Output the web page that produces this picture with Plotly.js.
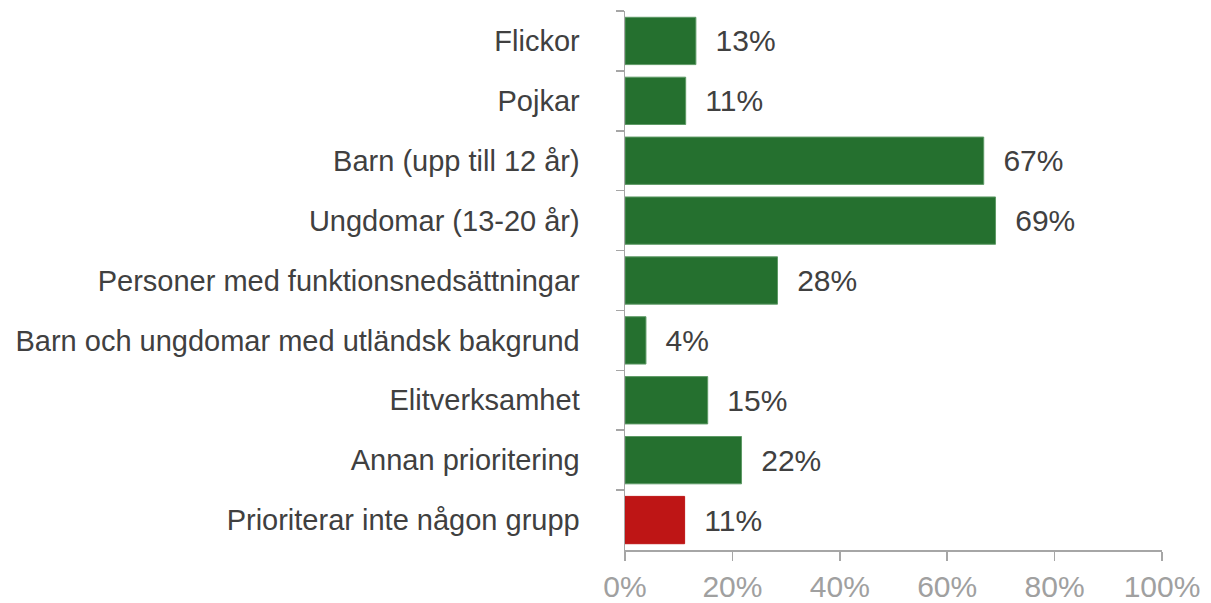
<!DOCTYPE html>
<html>
<head>
<meta charset="utf-8">
<script src="https://cdn.plot.ly/plotly-3.0.1.min.js"></script>
<style>html,body{margin:0;padding:0;background:#fff;}#chart{width:1211px;height:603px;}</style>
</head>
<body>
<div id="chart"></div>
<script>
const categories = [
  "Flickor",
  "Pojkar",
  "Barn (upp till 12 år)",
  "Ungdomar (13-20 år)",
  "Personer med funktionsnedsättningar",
  "Barn och ungdomar med utländsk bakgrund",
  "Elitverksamhet",
  "Annan prioritering",
  "Prioriterar inte någon grupp"
];
const values = [13.2, 11.3, 66.8, 69.0, 28.4, 3.9, 15.4, 21.7, 11.1];
const valueLabels = ["13%", "11%", "67%", "69%", "28%", "4%", "15%", "22%", "11%"];
const barColors = ["#25702F", "#25702F", "#25702F", "#25702F", "#25702F", "#25702F", "#25702F", "#25702F", "#BE1515"];
const lineColors = ["#5E9A66", "#5E9A66", "#5E9A66", "#5E9A66", "#5E9A66", "#5E9A66", "#5E9A66", "#5E9A66", "#BE1515"];
const xTickVals = [0, 20, 40, 60, 80, 100];
const xTickText = ["0%", "20%", "40%", "60%", "80%", "100%"];

const trace = {
  type: "bar",
  orientation: "h",
  x: values,
  y: categories,
  text: valueLabels,
  texttemplate: "\u00a0\u00a0%{text}",
  textposition: "outside",
  cliponaxis: false,
  textfont: {family: "Liberation Sans, Arial, sans-serif", size: 30, color: "#404040"},
  marker: {color: barColors, line: {color: lineColors, width: 1}},
  hoverinfo: "none"
};

const axisColor = "#A6A6A6";
const layout = {
  width: 1211,
  height: 603,
  margin: {l: 625, r: 49, t: 11, b: 53},
  paper_bgcolor: "#fff",
  plot_bgcolor: "#fff",
  showlegend: false,
  bargap: 0.21,
  font: {family: "Liberation Sans, Arial, sans-serif", size: 29, color: "#404040"},
  xaxis: {
    range: [0, 100],
    tickvals: xTickVals,
    ticktext: xTickText,
    showgrid: false,
    zeroline: false,
    showline: true,
    linecolor: axisColor,
    linewidth: 1.5,
    ticks: "outside",
    ticklen: 9,
    tickwidth: 1.5,
    tickcolor: axisColor,
    tickfont: {family: "Liberation Sans, Arial, sans-serif", size: 30, color: "#A0A0A0"},
    fixedrange: true
  },
  yaxis: {
    type: "category",
    autorange: "reversed",
    showgrid: false,
    zeroline: false,
    showline: true,
    linecolor: axisColor,
    linewidth: 1.5,
    ticks: "outside",
    tickson: "boundaries",
    ticklen: 8,
    tickwidth: 1.5,
    tickcolor: axisColor,
    ticklabelstandoff: 38,
    tickfont: {family: "Liberation Sans, Arial, sans-serif", size: 29, color: "#404040"},
    fixedrange: true
  }
};

Plotly.newPlot("chart", [trace], layout, {displayModeBar: false, staticPlot: true});
</script>
</body>
</html>
